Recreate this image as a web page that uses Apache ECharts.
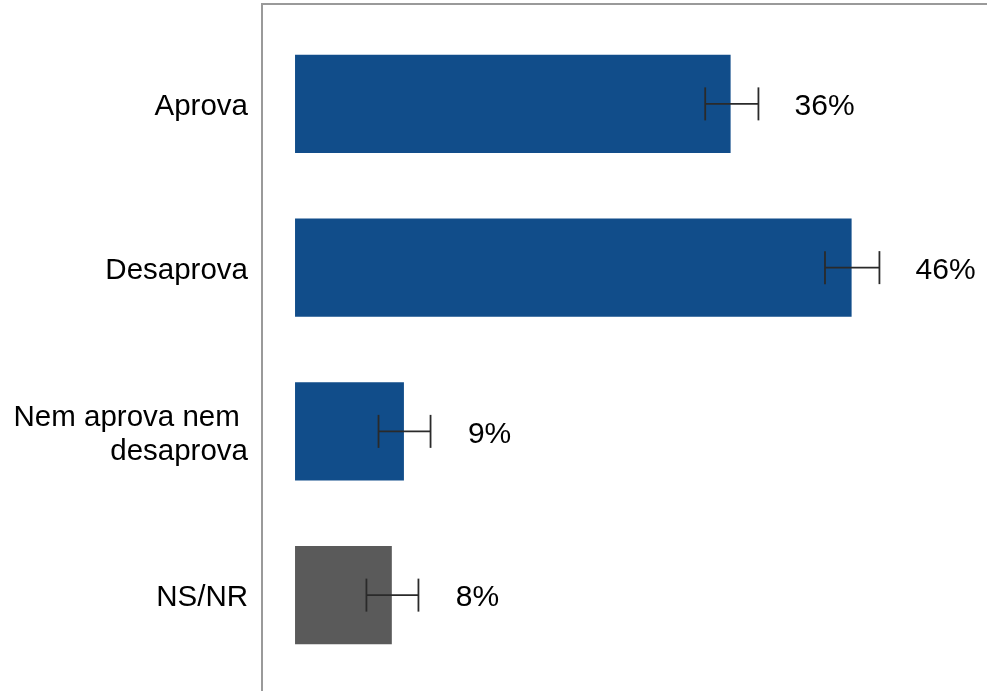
<!DOCTYPE html>
<html>
<head>
<meta charset="utf-8">
<script src="https://cdn.jsdelivr.net/npm/echarts@6/dist/echarts.min.js"></script>
<style>
  html, body { margin: 0; padding: 0; background: #fff; }
  #chart { width: 987px; height: 691px; }
</style>
</head>
<body>
<div id="chart"></div>
<script>
// categorias e valores (%)
var categories = ['Aprova', 'Desaprova', 'Nem aprova nem \ndesaprova', 'NS/NR'];
var values = [36, 46, 9, 8];
var barColors = ['#114d8a', '#114d8a', '#114d8a', '#5a5a5a'];
// margem de erro (limites)
var errorLow = [33.9, 43.8, 6.9, 5.9];
var errorHigh = [38.3, 48.3, 11.2, 10.2];

var chart = echarts.init(document.getElementById('chart'));

var option = {
  animation: false,
  grid: {
    left: 262,
    right: 0,
    top: 22,
    bottom: 14
  },
  xAxis: {
    type: 'value',
    min: -2.73,
    max: 57.19,
    show: false
  },
  yAxis: {
    type: 'category',
    data: categories,
    inverse: true,
    axisLine: { show: false },
    axisTick: { show: false },
    axisLabel: {
      margin: 14,
      fontFamily: 'Liberation Sans, Arial, sans-serif',
      fontSize: 29.5,
      color: '#000',
      // decalagem vertical de ~3px com rich text
      formatter: function (v) {
        return v.split('\n').map(function (s) { return '{t|' + s + '}'; }).join('\n');
      },
      rich: {
        t: {
          fontFamily: 'Liberation Sans, Arial, sans-serif',
          fontSize: 29.5,
          lineHeight: 34,
          padding: [6, 0, 0, 0],
          color: '#000'
        }
      }
    }
  },
  graphic: [{
    // moldura da área do gráfico (parcialmente cortada)
    type: 'polyline',
    shape: { points: [[262, 691], [262, 4], [987, 4]] },
    style: { stroke: '#9a9a9a', lineWidth: 2, fill: null },
    silent: true
  }],
  series: [{
    type: 'bar',
    barWidth: '60%',
    data: values.map(function (v, i) {
      return { value: v, itemStyle: { color: barColors[i] } };
    }),
    label: {
      show: true,
      position: 'right',
      distance: 64,
      offset: [0, 3],
      formatter: '{c}%',
      fontFamily: 'Liberation Sans, Arial, sans-serif',
      fontSize: 30,
      color: '#000'
    }
  }, {
    type: 'custom',
    data: errorLow.map(function (lo, i) { return [i, lo, errorHigh[i]]; }),
    renderItem: function (params, api) {
      var idx = api.value(0);
      var p1 = api.coord([api.value(1), idx]);
      var p2 = api.coord([api.value(2), idx]);
      var h = 16.5;
      var style = { stroke: '#2a2a2a', lineWidth: 1.8 };
      return {
        type: 'group',
        children: [
          { type: 'line', shape: { x1: p1[0], y1: p1[1], x2: p2[0], y2: p2[1] }, style: style },
          { type: 'line', shape: { x1: p1[0], y1: p1[1] - h, x2: p1[0], y2: p1[1] + h }, style: style },
          { type: 'line', shape: { x1: p2[0], y1: p2[1] - h, x2: p2[0], y2: p2[1] + h }, style: style }
        ]
      };
    },
    encode: { x: [1, 2], y: 0 },
    z: 3
  }]
};

chart.setOption(option);
</script>
</body>
</html>
